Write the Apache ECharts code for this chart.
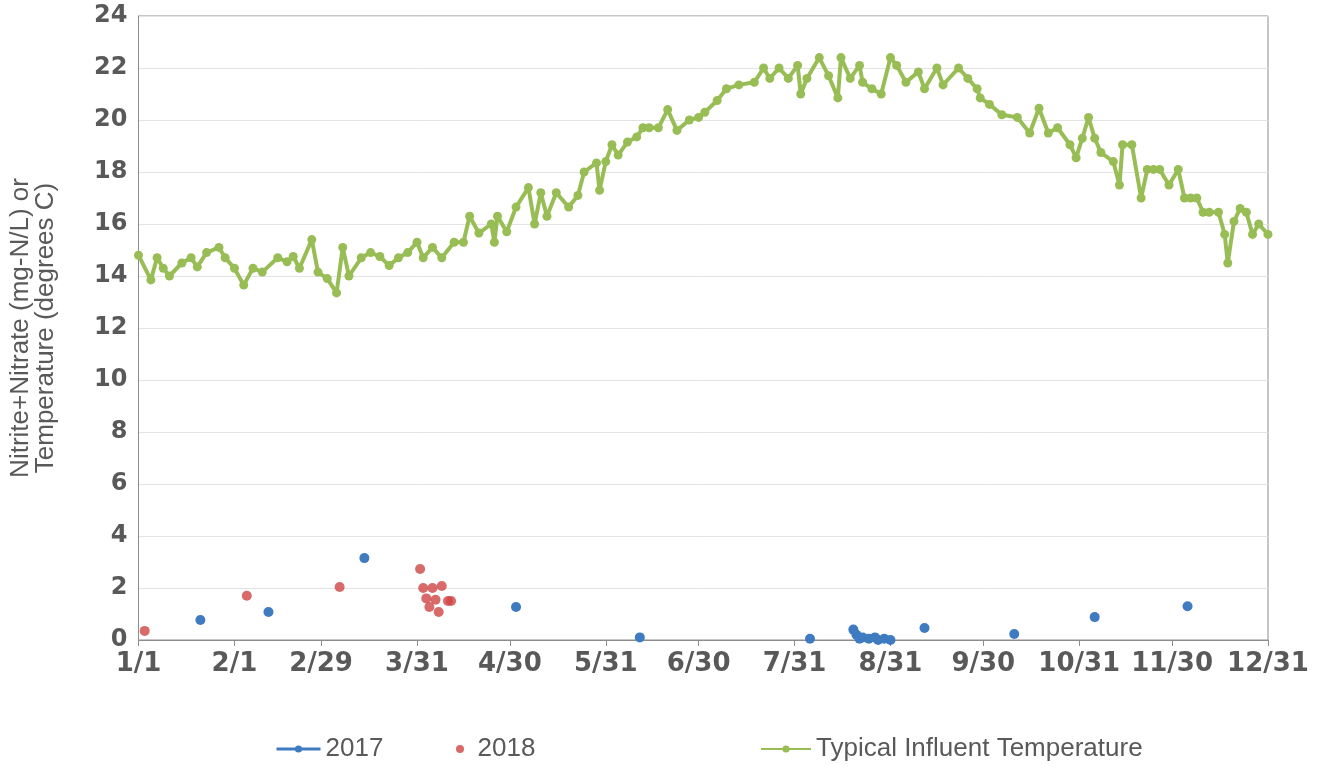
<!DOCTYPE html>
<html>
<head>
<meta charset="utf-8">
<script src="https://cdn.jsdelivr.net/npm/echarts@6/dist/echarts.min.js"></script>
<style>
  html, body { margin: 0; padding: 0; background: #fff; }
  #chart { width: 1324px; height: 766px; }
</style>
</head>
<body>
<div id="chart"></div>
<script>
// x axis: day of year (0 = 1/1), ticks at month ends
var tickDays = [0, 31, 59, 90, 120, 151, 181, 212, 243, 273, 304, 334, 365];
var tickLabels = ['1/1', '2/1', '2/29', '3/31', '4/30', '5/31', '6/30', '7/31', '8/31', '9/30', '10/31', '11/30', '12/31'];

// nitrite+nitrate, 2017
var days2017 = [20, 42, 73, 122, 162, 217, 231, 232, 233, 234, 236, 238, 239, 241, 243, 254, 283, 309, 339];
var vals2017 = [0.77, 1.08, 3.15, 1.27, 0.1, 0.05, 0.4, 0.2, 0.05, 0.1, 0.05, 0.1, 0.0, 0.05, 0.0, 0.46, 0.23, 0.88, 1.3];

// nitrite+nitrate, 2018
var days2018 = [2, 35, 65, 91, 92, 93, 94, 95, 96, 97, 98, 100, 101];
var vals2018 = [0.35, 1.7, 2.04, 2.73, 2.0, 1.6, 1.27, 2.0, 1.55, 1.08, 2.08, 1.5, 1.5];

// typical influent temperature
var tempDays = [0, 4, 6, 8, 10, 14, 17, 19, 22, 26, 28, 31, 34, 37, 40, 45, 48, 50, 52, 56, 58, 61, 64, 66, 68,
  72, 75, 78, 81, 84, 87, 90, 92, 95, 98, 102, 105, 107, 110, 114, 115, 116, 119, 122, 126, 128, 130, 132, 135,
  139, 142, 144, 148, 149, 151, 153, 155, 158, 161, 163, 165, 168, 171, 174, 178, 181, 183, 187, 190, 194, 199, 202,
  204, 207, 210, 213, 214, 216, 220, 223, 226, 227, 230, 233, 234, 237, 240, 243, 245, 248, 252, 254, 258, 260,
  265, 268, 271, 272, 275, 279, 284, 288, 291, 294, 297, 301, 303, 305, 307, 309, 311, 315, 317, 318, 321, 324,
  326, 328, 330, 333, 336, 338, 340, 342, 344, 346, 349, 351, 352, 354, 356, 358, 360, 362, 365];
var tempVals = [14.8, 13.85, 14.7, 14.3, 14.0, 14.5, 14.7, 14.35, 14.9, 15.1, 14.7, 14.3, 13.65, 14.3, 14.15, 14.7, 14.55, 14.75, 14.3, 15.4, 14.15, 13.9, 13.35, 15.1, 14.0,
  14.7, 14.9, 14.75, 14.4, 14.7, 14.9, 15.3, 14.7, 15.1, 14.7, 15.3, 15.3, 16.3, 15.65, 16.0, 15.3, 16.3, 15.7, 16.65, 17.4, 16.0, 17.2, 16.3, 17.2,
  16.65, 17.1, 18.0, 18.35, 17.3, 18.4, 19.05, 18.65, 19.15, 19.35, 19.7, 19.7, 19.7, 20.4, 19.6, 20.0, 20.1, 20.3, 20.75, 21.2, 21.35, 21.45, 22.0,
  21.6, 22.0, 21.6, 22.1, 21.0, 21.6, 22.4, 21.7, 20.85, 22.4, 21.6, 22.1, 21.45, 21.2, 21.0, 22.4, 22.1, 21.45, 21.85, 21.2, 22.0, 21.35,
  22.0, 21.6, 21.2, 20.85, 20.6, 20.2, 20.1, 19.5, 20.45, 19.5, 19.7, 19.05, 18.55, 19.3, 20.1, 19.3, 18.75, 18.4, 17.5, 19.05, 19.05, 17.0,
  18.1, 18.1, 18.1, 17.5, 18.1, 17.0, 17.0, 17.0, 16.45, 16.45, 16.45, 15.6, 14.5, 16.1, 16.6, 16.45, 15.6, 16.0, 15.6];

var BLUE = '#3f7bc1';
var RED = '#d04545';
var GREEN = '#98bd55';
var TEXT = '#595959';

function pairs(xs, ys) {
  return xs.map(function (x, i) { return [x, ys[i]]; });
}

var legendText = { fontFamily: 'Liberation Sans', fontSize: 26, color: TEXT };

var option = {
  backgroundColor: '#fff',
  animation: false,
  grid: {
    left: 138, right: 56, top: 16, bottom: 126,
    show: true, borderColor: '#8c8c8c', borderWidth: 1
  },
  legend: [{
    data: [{ name: '2017', lineStyle: { width: 3, opacity: 1 } }],
    left: 275, top: 736, padding: 0, itemWidth: 44, itemHeight: 9,
    textStyle: legendText
  }, {
    data: ['2018'],
    left: 456, top: 736, padding: 0, itemWidth: 25, itemHeight: 8,
    textStyle: legendText
  }, {
    data: ['Typical Influent Temperature'],
    left: 760, top: 736, padding: 0, itemWidth: 50, itemHeight: 9,
    textStyle: legendText
  }],
  xAxis: {
    type: 'value',
    min: 0, max: 365,
    axisLine: { show: true, lineStyle: { color: '#8c8c8c', width: 1 } },
    axisTick: { show: true, customValues: tickDays, length: 6, lineStyle: { color: '#8c8c8c' } },
    axisLabel: {
      customValues: tickDays,
      margin: 11,
      fontFamily: 'DejaVu Sans', fontWeight: 'bold', fontSize: 26, color: TEXT,
      formatter: function (v) {
        var i = tickDays.indexOf(v);
        return i >= 0 ? tickLabels[i] : '';
      }
    },
    splitLine: { show: false }
  },
  yAxis: {
    type: 'value',
    min: 0, max: 24, interval: 2,
    name: 'Nitrite+Nitrate (mg-N/L) or\nTemperature (degrees C)',
    nameLocation: 'middle',
    nameGap: 80,
    nameTextStyle: { fontFamily: 'Liberation Sans', fontSize: 26, color: TEXT, lineHeight: 25 },
    axisLine: { show: true, lineStyle: { color: '#8c8c8c', width: 1 } },
    axisTick: { show: false },
    axisLabel: {
      margin: 11,
      fontFamily: 'DejaVu Sans', fontWeight: 'bold', fontSize: 24, color: TEXT
    },
    splitLine: { show: true, lineStyle: { color: '#e3e3e3', width: 1 } }
  },
  series: [{
    name: '2017',
    type: 'line',
    data: pairs(days2017, vals2017),
    symbol: 'circle', symbolSize: 10,
    itemStyle: { color: BLUE },
    lineStyle: { width: 0, opacity: 0, color: BLUE },
    z: 3
  }, {
    name: '2018',
    type: 'scatter',
    data: pairs(days2018, vals2018),
    symbol: 'circle', symbolSize: 10,
    itemStyle: { color: RED },
    z: 4
  }, {
    name: 'Typical Influent Temperature',
    type: 'line',
    data: pairs(tempDays, tempVals),
    symbol: 'circle', symbolSize: 9,
    showAllSymbol: true,
    itemStyle: { color: GREEN },
    lineStyle: { width: 4, color: GREEN },
    z: 2
  }]
};

var chart = echarts.init(document.getElementById('chart'));
chart.setOption(option);
</script>
</body>
</html>
